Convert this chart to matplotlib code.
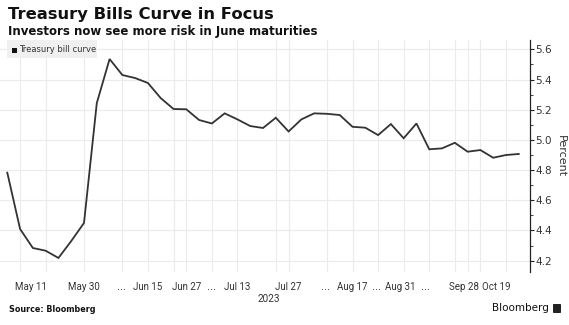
import matplotlib
matplotlib.use("Agg")
import matplotlib.pyplot as plt
import numpy as np
from matplotlib.patches import Rectangle, FancyBboxPatch
from matplotlib.ticker import MultipleLocator

# ---- data ----
values = [4.783, 4.41, 4.284, 4.266, 4.218, 4.33, 4.45, 5.244, 5.536, 5.43,
          5.41, 5.377, 5.277, 5.205, 5.203, 5.132, 5.109, 5.176, 5.136, 5.092,
          5.079, 5.147, 5.056, 5.136, 5.176, 5.173, 5.165, 5.087, 5.081, 5.032,
          5.105, 5.011, 5.109, 4.938, 4.944, 4.981, 4.922, 4.933, 4.882, 4.900,
          4.907]
tick_pos = [1.85, 6.0, 8.9, 11.0, 14.0, 16.0, 18.0, 22.0, 24.9, 26.96, 28.84,
            30.75, 32.7, 35.7, 38.25]
tick_labels = ["May 11", "May 30", "...", "Jun 15", "Jun 27", "...", "Jul 13",
               "Jul 27", "...", "Aug 17", "...", "Aug 31", "...", "Sep 28", "Oct 19"]
grid_idx = [1, 3, 6, 9, 11, 13, 14, 16, 18, 21, 22, 25, 27, 29, 31, 33, 35, 36, 37, 39]
y_ticks = [4.2, 4.4, 4.6, 4.8, 5.0, 5.2, 5.4, 5.6]
series_name = "Treasury bill curve"
year_label = "2023"

fig = plt.figure(figsize=(5.69, 3.25), dpi=100)
ax = fig.add_axes([0.0, 53/325, 530/569, 232/325])

x = np.arange(len(values))
ax.plot(x, values, color="#333333", lw=1.3, solid_joinstyle="miter", zorder=3)

ax.set_xlim(-0.57, 40.88)
ax.set_ylim(4.125, 5.662)

# grids
for gx in grid_idx:
    ax.axvline(gx, color="#ebebeb", lw=0.8, zorder=0)
for gy in y_ticks:
    ax.axhline(gy, color="#ebebeb", lw=0.8, zorder=0)

# spines
for s in ["top", "left", "bottom"]:
    ax.spines[s].set_visible(False)
ax.spines["right"].set_color("#222222")
ax.spines["right"].set_linewidth(0.9)

ax.yaxis.tick_right()
ax.yaxis.set_label_position("right")
ax.set_yticks(y_ticks)
ax.set_yticklabels([f"{v:.1f}" for v in y_ticks])
ax.yaxis.set_minor_locator(MultipleLocator(0.1))
ax.tick_params(axis="y", which="major", direction="out", length=3, width=0.8,
               color="#222222", labelsize=7.5, labelcolor="#333333", pad=1)
ax.tick_params(axis="y", which="minor", direction="out", length=2, width=0.6,
               color="#222222")
ax.set_ylabel("Percent", rotation=270, fontsize=8, color="#333333", labelpad=10)

ax.set_xticks(tick_pos)
ax.set_xticklabels(tick_labels, fontfamily="Roboto")
ax.tick_params(axis="x", length=0, labelsize=7.0, labelcolor="#333333", pad=7)
for lbl in ax.get_xticklabels():
    if lbl.get_text() == "...":
        lbl.set_fontfamily("DejaVu Sans")
        lbl.set_fontsize(7)

ax.text(0.507, -0.095, year_label, transform=ax.transAxes, ha="center", va="top",
        fontsize=7.2, color="#333333", fontfamily="Roboto")

# legend box
leg_bg = Rectangle((7/530, 1 - 18/232), 90/530, 18/232, transform=ax.transAxes,
                   facecolor="#f0f0f0", edgecolor="none", zorder=4)
ax.add_patch(leg_bg)
ax.add_patch(Rectangle((12/530, 1 - 12.5/232), 5/530, 5/232, transform=ax.transAxes,
                       facecolor="#111111", edgecolor="none", zorder=5))
ax.text(19.5/530, 1 - 9.5/232, series_name, transform=ax.transAxes, ha="left",
        va="center", fontsize=6, color="#333333", zorder=5)

# titles
fig.text(8/569, 1 - 14/325, "Treasury Bills Curve in Focus", ha="left", va="center",
         fontsize=11.8, fontweight="bold", color="#111111")
fig.text(8/569, 1 - 31/325, "Investors now see more risk in June maturities",
         ha="left", va="center", fontsize=8.5, fontweight="bold", color="#111111")
fig.text(9/569, 1 - 309/325, "Source: Bloomberg", ha="left", va="center",
         fontsize=5.8, fontweight="bold", color="#111111")
fig.text(549/569, 1 - 308/325, "Bloomberg", ha="right", va="center",
         fontsize=7.5, color="#111111")
fig.patches.append(FancyBboxPatch((553/569, 1 - 313/325), 8/569, 9/325,
                                  boxstyle="round,pad=0,rounding_size=0.002",
                                  transform=fig.transFigure, facecolor="#222222",
                                  edgecolor="none"))

fig.savefig("out.png", dpi=100)
